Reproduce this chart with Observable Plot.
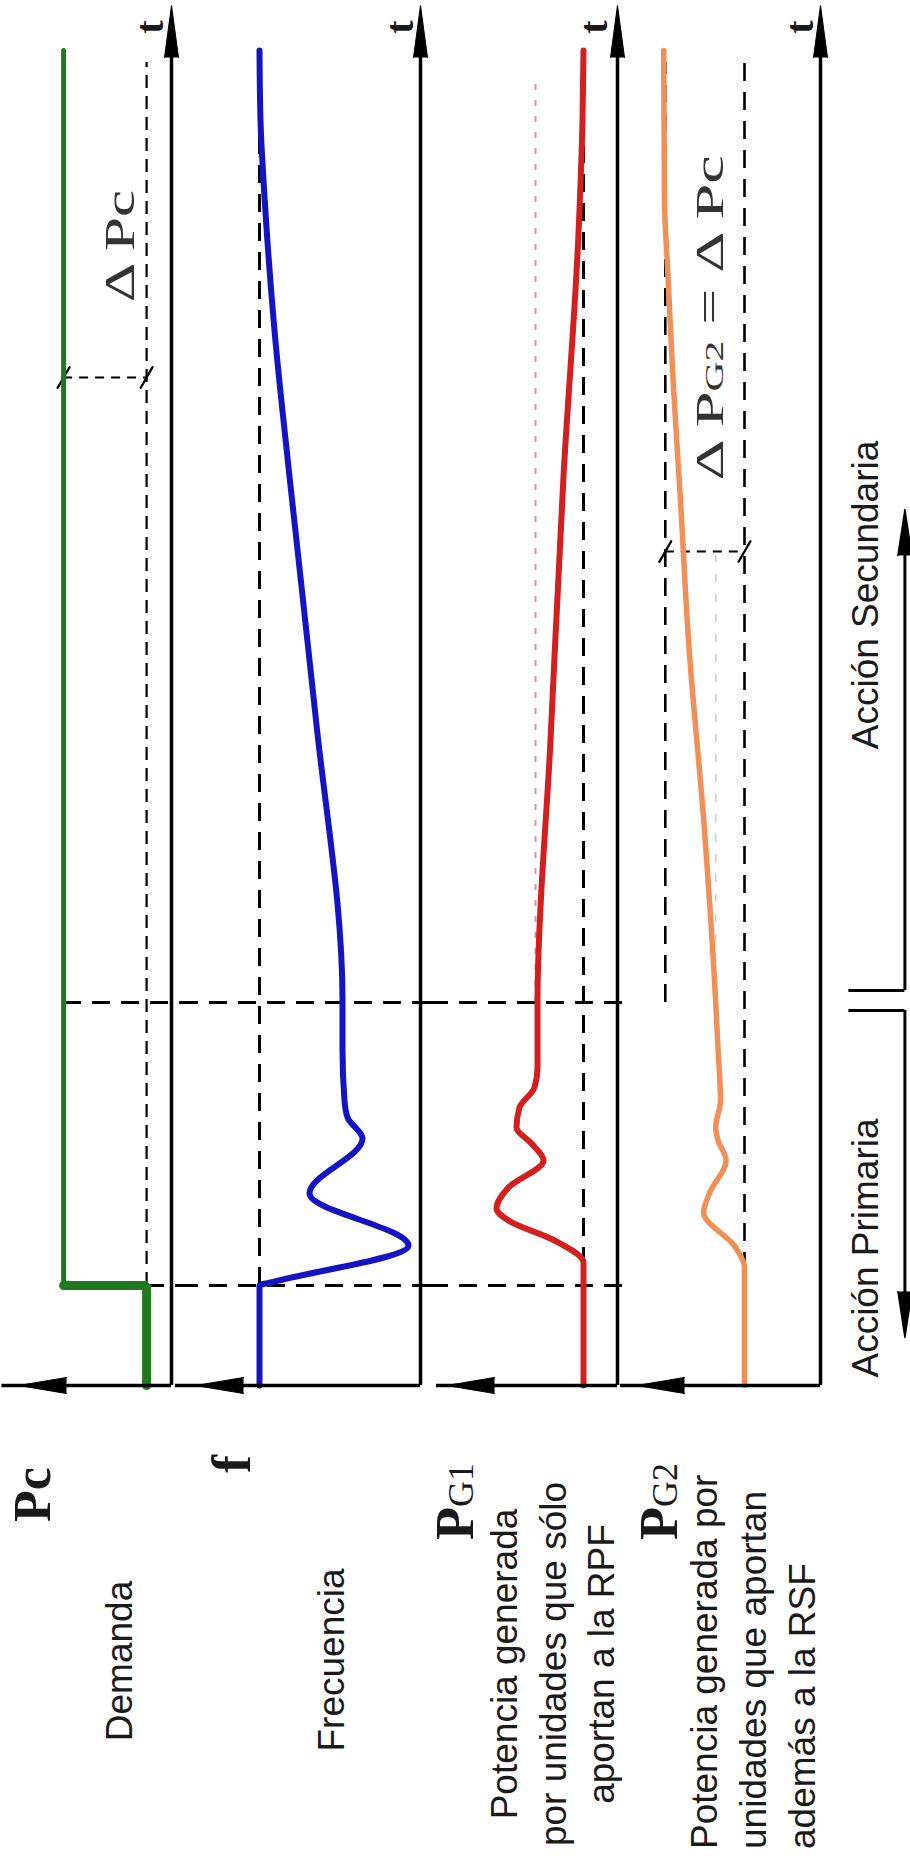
<!DOCTYPE html>
<html><head><meta charset="utf-8">
<script src="https://cdn.jsdelivr.net/npm/d3@7"></script>
<script src="https://cdn.jsdelivr.net/npm/@observablehq/plot@0.6"></script>
<style>
body{margin:0;background:#fff;}
#chart{position:relative;width:910px;height:1867px;overflow:hidden;background:#fff;}
.panel{position:absolute;top:0;}
</style></head><body><div id="chart"></div>
<script>
// ---------------- DATA ----------------
// time instants (arbitrary time units, t = 0 at the origin of each panel)
const tStep = 1.0;        // demand step
const tSecondary = 3.83;  // secondary regulation starts
const tEnd = 13.35;       // end of the curves
const tRefTop = 13.23;    // top of the reference (dashed) levels

// Pc : demand
const demandT = [0, 1.0, 1.0, 13.35];
const demandV = [0.30, 0.30, 1.30, 1.30];
const demandBase = 0.30, demandFinal = 1.30, tDeltaPc = 10.08;

// f : frequency
const freqT = [0, 1.0, 1.03, 1.40, 1.92, 2.47, 2.68, 2.85, 3.35, 3.85, 6.70, 9.09, 10.55, 11.89, 12.65, 13.35];
const freqV = [1.61, 1.61, 1.50, 0.12, 1.11, 0.58, 0.73, 0.76, 0.78, 0.78, 1.05, 1.31, 1.46, 1.56, 1.60, 1.61];
const freqBase = 1.61;

// PG1 : units only in primary regulation (RPF)
const pg1T = [0, 1.23, 1.45, 1.65, 1.77, 1.98, 2.25, 2.42, 2.58, 2.78, 2.98, 3.18, 3.83, 6.45, 9.09, 11.52, 12.65, 13.35];
const pg1V = [0.68, 0.68, 1.26, 2.18, 2.42, 2.18, 1.48, 1.72, 2.02, 1.96, 1.66, 1.60, 1.60, 1.34, 1.08, 0.78, 0.70, 0.68];
const pg1Base = 0.68, pg1Primary = 1.64;

// PG2 : units also in secondary regulation (RSF)
const pg2T = [0, 1.18, 1.38, 1.73, 1.92, 2.25, 2.45, 2.58, 2.85, 3.35, 3.83, 5.55, 7.45, 8.85, 10.01, 11.15, 11.85, 13.35];
const pg2V = [0.95, 0.95, 1.06, 1.46, 1.39, 1.18, 1.28, 1.31, 1.25, 1.28, 1.31, 1.45, 1.65, 1.75, 1.84, 1.91, 1.95, 1.96];
const pg2Base = 0.95, pg2Final = 1.94, pg2Primary = 1.31, tDeltaPg2 = 8.34;

// regulation phases
const phaseNames = ["Acción Primaria", "Acción Secundaria"];
const phaseStart = [0.48, 3.95];
const phaseEnd = [3.75, 8.76];

// texts
const axisLabel = "t";
const panelSymbols = [["Pc"], ["f"], ["P", "G1"], ["P", "G2"]];
const panelDescriptions = [
  ["Demanda"],
  ["Frecuencia"],
  ["Potencia generada", "por unidades que sólo", "aportan a la RPF"],
  ["Potencia generada por", "unidades que aportan", "además a la RSF"]
];

// ---------------- LAYOUT / STYLE ----------------
const T_MAX = 13.8;
const Y_BOTTOM = 1385, Y_TOP = 5;
const SERIF = "'Liberation Serif','DejaVu Serif',serif";
const SANS = "'Liberation Sans',Arial,'DejaVu Sans',sans-serif";
const panels = [
  {left: 0,   width: 180, axis: 171, k: 83,  tip: 18},
  {left: 180, width: 250, axis: 420, k: 100, tip: 195},
  {left: 430, width: 200, axis: 617, k: 50,  tip: 446},
  {left: 630, width: 200, axis: 820, k: 80,  tip: 636}
];
const chart = document.getElementById("chart");
const dashBig = "18,11", dashSmall = "13,8";
const slash = {draw(ctx, l) { ctx.moveTo(0, 0); ctx.lineTo(0, -l); }};

function panelPlot(p, marks) {
  const d0 = (p.axis - p.left) / p.k, d1 = (p.axis - p.left - p.width) / p.k;
  const tipV = (p.axis - p.tip) / p.k;
  const axes = [
    Plot.ruleX([0], {y1: 0, y2: T_MAX - 0.3, stroke: "black", strokeWidth: 3.5}),
    Plot.ruleY([0], {x1: 0, x2: tipV + 0.2, stroke: "black", strokeWidth: 3.5}),
    Plot.vector([0], {x: 0, y: T_MAX, rotate: 0, shape: "spike", length: 52, r: 7, anchor: "end", fill: "black", stroke: "black", strokeWidth: 1}),
    Plot.vector([0], {x: tipV, y: 0, rotate: -90, shape: "spike", length: 48, r: 8, anchor: "end", fill: "black", stroke: "black", strokeWidth: 1})
  ];
  const svg = Plot.plot({
    width: p.width, height: 1400, margin: 0,
    style: {overflow: "visible", background: "transparent"},
    x: {type: "linear", domain: [d0, d1], range: [0, p.width], axis: null},
    y: {type: "linear", domain: [0, T_MAX], range: [Y_BOTTOM, Y_TOP], axis: null},
    marks: [...marks({d0, d1}), ...axes]
  });
  const wrap = document.createElement("div");
  wrap.className = "panel";
  wrap.style.left = p.left + "px";
  wrap.appendChild(svg);
  chart.appendChild(wrap);
}

// Panel 1 : Pc
panelPlot(panels[0], ({d1}) => [
  Plot.ruleX([demandBase], {y1: tStep, y2: tRefTop, stroke: "black", strokeWidth: 2.2, strokeDasharray: dashSmall}),
  Plot.ruleY([tStep], {x1: demandBase, x2: d1, stroke: "black", strokeWidth: 3, strokeDasharray: dashBig}),
  Plot.ruleY([tSecondary], {x1: demandFinal, x2: d1, stroke: "black", strokeWidth: 3, strokeDasharray: dashBig}),
  Plot.ruleY([tDeltaPc], {x1: demandFinal, x2: demandBase, stroke: "black", strokeWidth: 2.2, strokeDasharray: "9,7"}),
  Plot.vector([demandFinal, demandBase], {x: d => d, y: tDeltaPc, rotate: 30, length: 24, anchor: "middle", shape: slash, stroke: "black", strokeWidth: 2.2}),
  Plot.line(demandT, {x: demandV, y: demandT, stroke: "#1f7a1f", strokeWidth: 5, strokeLinejoin: "miter"}),
  Plot.line(demandT.slice(0, 3), {x: demandV.slice(0, 3), y: demandT.slice(0, 3), stroke: "#1f7a1f", strokeWidth: 9, strokeLinejoin: "miter"})
]);

// Panel 2 : f
panelPlot(panels[1], () => [
  Plot.ruleX([freqBase], {y1: tStep, y2: tRefTop, stroke: "black", strokeWidth: 3, strokeDasharray: dashBig}),
  Plot.ruleY([tStep], {stroke: "black", strokeWidth: 3, strokeDasharray: dashBig}),
  Plot.ruleY([tSecondary], {stroke: "black", strokeWidth: 3, strokeDasharray: dashBig}),
  Plot.line(freqT, {x: freqV, y: freqT, stroke: "#1414c4", strokeWidth: 6, strokeLinejoin: "round", curve: "monotone-y"})
]);

// Panel 3 : PG1
panelPlot(panels[2], () => [
  Plot.ruleX([pg1Primary], {y1: tSecondary, y2: 13.08, stroke: "#c99", strokeWidth: 2, strokeDasharray: "6,10"}),
  Plot.ruleX([pg1Base], {y1: 1.2, y2: tRefTop, stroke: "black", strokeWidth: 3, strokeDasharray: dashBig}),
  Plot.ruleY([tStep], {stroke: "black", strokeWidth: 3, strokeDasharray: dashBig}),
  Plot.ruleY([tSecondary], {stroke: "black", strokeWidth: 3, strokeDasharray: dashBig}),
  Plot.line(pg1T, {x: pg1V, y: pg1T, stroke: "#d41f1f", strokeWidth: 6, strokeLinejoin: "round", curve: "monotone-y"})
]);

// Panel 4 : PG2
panelPlot(panels[3], () => [
  Plot.ruleX([pg2Primary], {y1: tSecondary, y2: 8.3, stroke: "#ccc", strokeWidth: 1.5, strokeDasharray: "8,12"}),
  Plot.ruleX([pg2Base], {y1: 1.15, y2: tRefTop, stroke: "black", strokeWidth: 2.6, strokeDasharray: dashBig}),
  Plot.ruleX([pg2Final], {y1: tSecondary, y2: tRefTop, stroke: "black", strokeWidth: 2.6, strokeDasharray: dashBig}),
  Plot.ruleY([tStep], {x2: 0, stroke: "black", strokeWidth: 3, strokeDasharray: dashBig}),
  Plot.ruleY([tSecondary], {x2: 0, stroke: "black", strokeWidth: 3, strokeDasharray: dashBig}),
  Plot.ruleY([tDeltaPg2], {x1: pg2Final, x2: pg2Base, stroke: "black", strokeWidth: 2.2, strokeDasharray: "9,7"}),
  Plot.vector([pg2Final, pg2Base], {x: d => d, y: tDeltaPg2, rotate: 30, length: 24, anchor: "middle", shape: slash, stroke: "black", strokeWidth: 2.2}),
  Plot.line(pg2T, {x: pg2V, y: pg2T, stroke: "#f09058", strokeWidth: 5.5, strokeLinejoin: "round", curve: "monotone-y"})
]);

// Right : regulation phases
(function () {
  const svg = Plot.plot({
    width: 80, height: 1400, margin: 0,
    style: {overflow: "visible", background: "transparent"},
    x: {type: "linear", domain: [0, 1], range: [0, 80], axis: null},
    y: {type: "linear", domain: [0, T_MAX], range: [Y_BOTTOM, Y_TOP], axis: null},
    marks: [
      Plot.ruleX([0], {x: 0.93, y1: phaseStart[0] + 0.3, y2: phaseEnd[0], stroke: "black", strokeWidth: 3}),
      Plot.ruleX([0], {x: 0.93, y1: phaseStart[1], y2: phaseEnd[1] - 0.3, stroke: "black", strokeWidth: 3}),
      Plot.ruleY([phaseEnd[0], phaseStart[1]], {x1: 0.23, x2: 0.93, stroke: "black", strokeWidth: 3}),
      Plot.vector([0], {x: 0.93, y: phaseStart[0], rotate: 180, shape: "spike", length: 46, r: 7, anchor: "end", fill: "black", stroke: "black"}),
      Plot.vector([0], {x: 0.93, y: phaseEnd[1], rotate: 0, shape: "spike", length: 46, r: 7, anchor: "end", fill: "black", stroke: "black"})
    ]
  });
  const wrap = document.createElement("div");
  wrap.className = "panel";
  wrap.style.left = "830px";
  wrap.appendChild(svg);
  chart.appendChild(wrap);
})();

// ---------------- TEXT (rotated, reading bottom to top) ----------------
const tsvg = d3.select("#chart").append("svg")
  .attr("width", 910).attr("height", 1867)
  .style("position", "absolute").style("left", 0).style("top", 0)
  .style("pointer-events", "none");

function vtext(x, y, anchor, spans, textLength, fill) {
  const t = tsvg.append("text")
    .attr("transform", `translate(${x},${y}) rotate(-90)`)
    .attr("text-anchor", anchor).attr("fill", fill || "#1a1a1a");
  if (textLength) t.attr("textLength", textLength).attr("lengthAdjust", "spacingAndGlyphs");
  for (const s of spans) {
    t.append("tspan").attr("font-family", s.f).attr("font-size", s.s)
      .attr("font-weight", s.w || "normal").text(s.t);
  }
  return t;
}

// t labels at the top of the time axes
[163, 413, 607, 813].forEach(x => vtext(x, 27, "middle", [{t: axisLabel, f: SERIF, s: 40, w: "bold"}]));

// delta annotations
vtext(134, 246, "middle", [{t: "Δ Pc", f: SERIF, s: 42}], 112, "#333");
vtext(723, 318, "middle", [{t: "Δ P", f: SERIF, s: 40}, {t: "G2", f: SERIF, s: 26}, {t: " = Δ Pc", f: SERIF, s: 40}], 325, "#333");

// panel symbols
vtext(50, 1522, "start", [{t: panelSymbols[0][0], f: SERIF, s: 52, w: "bold"}]);
vtext(250, 1473, "start", [{t: panelSymbols[1][0], f: SERIF, s: 54, w: "bold"}]);
vtext(473, 1540, "start", [{t: panelSymbols[2][0], f: SERIF, s: 54, w: "bold"}, {t: panelSymbols[2][1], f: SERIF, s: 36}]);
vtext(677, 1540, "start", [{t: panelSymbols[3][0], f: SERIF, s: 54, w: "bold"}, {t: panelSymbols[3][1], f: SERIF, s: 36}]);

// descriptions
vtext(132, 1661, "middle", [{t: panelDescriptions[0][0], f: SANS, s: 37}]);
vtext(344, 1660, "middle", [{t: panelDescriptions[1][0], f: SANS, s: 37}]);
[517, 566, 614].forEach((x, i) => vtext(x, 1664, "middle", [{t: panelDescriptions[2][i], f: SANS, s: 37}]));
[717, 766, 815].forEach((x, i) => vtext(x, 1849, "start", [{t: panelDescriptions[3][i], f: SANS, s: 37}]));

// phases
vtext(878, 1248, "middle", [{t: phaseNames[0], f: SANS, s: 37}]);
vtext(878, 595, "middle", [{t: phaseNames[1], f: SANS, s: 37}]);
</script></body></html>
